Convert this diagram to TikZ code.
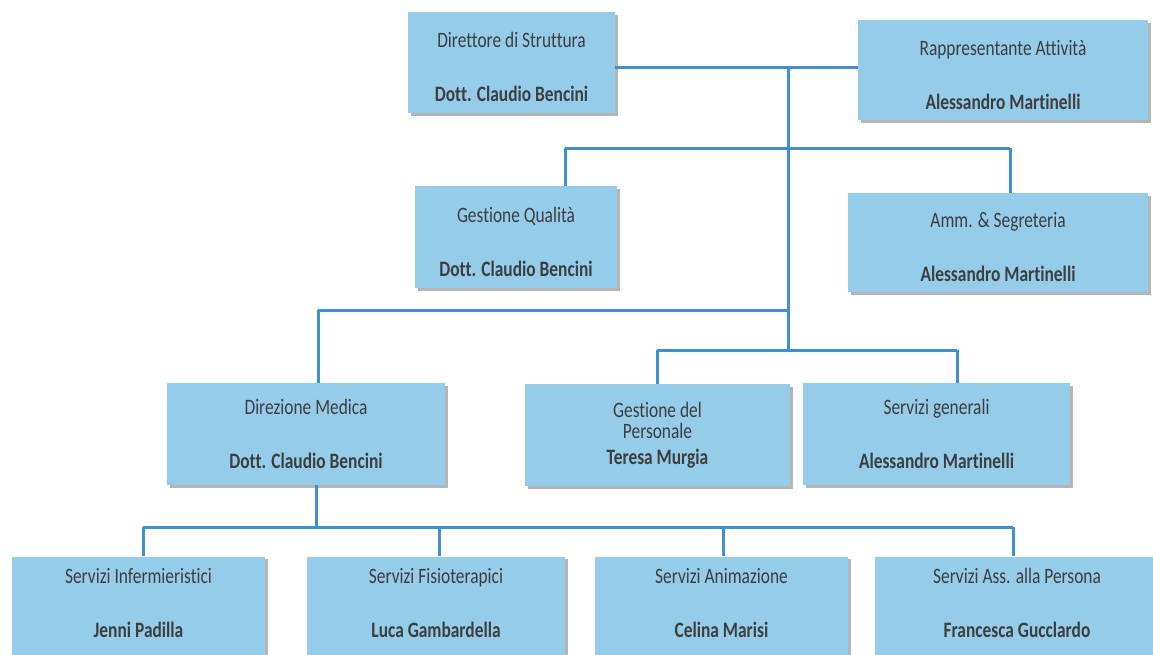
\documentclass[tikz,border=0pt]{standalone}
\usepackage{fontspec}
\setmainfont{Carlito}[FakeStretch=0.79,Ligatures=NoCommon]
\usetikzlibrary{calc}
\definecolor{boxfill}{HTML}{94CCEA}
\definecolor{linecol}{HTML}{3F8FD2}
\definecolor{txt}{HTML}{3E3E3E}
\definecolor{shad}{HTML}{B5B5B5}
\newcommand{\topstrut}{\rule{0pt}{25pt}}
\newcommand{\botstrut}{\rule[-11pt]{0pt}{11pt}}
\tikzset{
  orgbox/.style={fill=boxfill, draw=none, align=center, text=txt, inner sep=0pt,
    font=\fontsize{22}{21}\selectfont,
    preaction={fill=shad, transform canvas={shift={(2.5pt,-2.5pt)}}}},
  conn/.style={draw=linecol, line width=3pt}
}
\begin{document}
\begin{tikzpicture}[x=1pt,y=-1pt]
\useasboundingbox (0,0) rectangle (1153,654);
\fill[white] (0,0) rectangle (1153,654);
% top row
\node[orgbox, minimum width=207pt, minimum height=101pt] (dir) at (511.5,62.5) {\topstrut Direttore di Struttura\\[33pt]\textbf{Dott. Claudio Bencini}};
\node[orgbox, minimum width=290pt, minimum height=100pt] (rap) at (1003,70) {\topstrut Rappresentante Attività\\[33pt]\textbf{Alessandro Martinelli}};
% second row
\node[orgbox, minimum width=202pt, minimum height=102pt] (qual) at (516,237) {\topstrut Gestione Qualità\\[33pt]\textbf{Dott. Claudio Bencini}};
\node[orgbox, minimum width=300pt, minimum height=99pt] (amm) at (998,242.5) {\topstrut Amm. \& Segreteria\\[33pt]\textbf{Alessandro Martinelli}};
% third row
\node[orgbox, minimum width=278pt, minimum height=102pt] (med) at (306,434) {Direzione Medica\\[33pt]\textbf{Dott. Claudio Bencini}};
\node[orgbox, minimum width=265pt, minimum height=102pt] (pers) at (657.5,435) {Gestione del\\Personale\\[5pt]\textbf{Teresa Murgia}};
\node[orgbox, minimum width=267pt, minimum height=102pt] (gen) at (936.5,434) {Servizi generali\\[33pt]\textbf{Alessandro Martinelli}};
% bottom row
\node[orgbox, minimum width=253pt, minimum height=103pt] (inf) at (138.5,608) {Servizi Infermieristici\\[33pt]\textbf{Jenni Padilla}\botstrut};
\node[orgbox, minimum width=258pt, minimum height=103pt] (fis) at (436,608) {Servizi Fisioterapici\\[33pt]\textbf{Luca Gambardella}\botstrut};
\node[orgbox, minimum width=253pt, minimum height=103pt] (ani) at (721.5,608) {Servizi Animazione\\[33pt]\textbf{Celina Marisi}\botstrut};
\node[orgbox, minimum width=285pt, minimum height=103pt] (ass) at (1017,608) {Servizi Ass. alla Persona\\[33pt]\textbf{Francesca Gucclardo}\botstrut};
% junction coordinates
\coordinate (j0) at (788,67);
\coordinate (j2) at (788,310);
\coordinate (j3) at (788,350);
\coordinate (qa) at (565,148);
\coordinate (qb) at (1010,148);
\coordinate (ma) at (318,310);
\coordinate (pa) at (657,350);
\coordinate (pb) at (957,350);
\coordinate (b0) at (316,527);
\coordinate (ba) at (143,527);
\coordinate (bf) at (439,527);
\coordinate (bn) at (723,527);
\coordinate (bb) at (1013,527);
% connectors
\draw[conn] (dir.east |- j0) -- (rap.west |- j0);
\draw[conn] (j0) -- (j3);
\draw[conn] (qa) -- (qb);
\draw[conn] (qa) -- (qa |- qual.north);
\draw[conn] (qb) -- (qb |- amm.north);
\draw[conn] (ma) -- (j2);
\draw[conn] (ma) -- (ma |- med.north);
\draw[conn] (pa) -- (pb);
\draw[conn] (pa) -- (pa |- pers.north);
\draw[conn] (pb) -- (pb |- gen.north);
\draw[conn] (b0 |- med.south) -- (b0);
\draw[conn] (ba) -- (bb);
\draw[conn] (ba) -- (ba |- inf.north);
\draw[conn] (bf) -- (bf |- fis.north);
\draw[conn] (bn) -- (bn |- ani.north);
\draw[conn] (bb) -- (bb |- ass.north);
\end{tikzpicture}
\end{document}
